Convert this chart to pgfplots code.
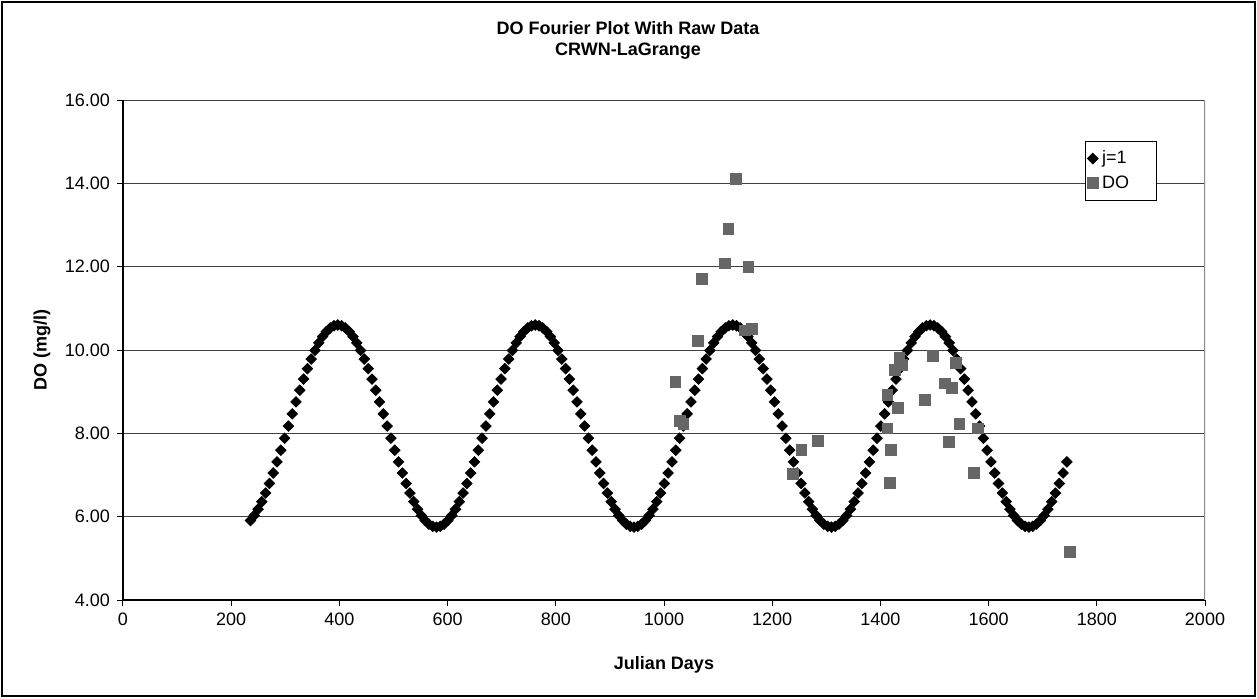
\documentclass[border=0pt]{standalone}
\usepackage{pgfplots}
\pgfplotsset{compat=1.18}
\usepackage{fontspec}
\setmainfont{Liberation Sans}
\definecolor{dogray}{RGB}{102,102,102}
\begin{document}
\begin{tikzpicture}
\useasboundingbox (-61.5pt,-49pt) rectangle (567pt,300pt);
\fill[white] (-61.5pt,-49pt) rectangle (567pt,300pt);
\draw[black, line width=0.6pt] (-60.5pt,-48pt) rectangle (566pt,299pt);
\node[align=center, font=\bfseries\fontsize{9}{10.5}\selectfont] at (252.5pt,280pt) {DO Fourier Plot With Raw Data\\CRWN-LaGrange};
\begin{axis}[
  scale only axis, width=541pt, height=250pt,
  xmin=0, xmax=2000, ymin=4, ymax=16,
  xtick={0,200,...,2000}, ytick={4,6,...,16},
  ymajorgrids, grid style={black!75, line width=0.5pt},
  axis x line*=bottom, axis y line*=left,
  axis line style={black, line width=0.7pt},
  tick align=outside, major tick length=3pt,
  tick style={black, line width=0.5pt},
  /pgf/number format/assume math mode=true,
  tick label style={font=\fontsize{9}{10}\selectfont},
  yticklabel style={/pgf/number format/.cd, fixed, fixed zerofill, precision=2},
  xticklabel style={/pgf/number format/.cd, 1000 sep={}},
  xlabel={Julian Days}, ylabel={DO (mg/l)},
  label style={font=\bfseries\fontsize{9}{10}\selectfont},
  xlabel style={at={(axis description cs:0.5,-0.13)}, anchor=center},
  ylabel style={at={(axis description cs:-0.0749,0.5)}, anchor=center},
  legend style={at={(0.889,0.918)}, anchor=north west, draw=black, line width=0.5pt, fill=white, font=\fontsize{9}{10}\selectfont, inner xsep=1pt, inner ysep=2.5pt, row sep=0.5pt, nodes={text width=24pt, align=left}},
  legend cell align=left,
]
\addplot[only marks, mark=square*, mark size=1.85pt, mark options={rotate=45, fill=black, draw=black}] table[row sep=\\] {
x y\\
235.6 5.908\\ 242.6 6.028\\ 249.6 6.179\\ 256.6 6.360\\ 263.6 6.567\\ 270.7 6.797\\ 277.7 7.048\\ 284.7 7.315\\ 291.7 7.595\\ 298.7 7.883\\ 305.8 8.175\\ 312.8 8.467\\ 319.8 8.755\\ 326.8 9.035\\ 333.8 9.302\\ 340.9 9.553\\ 347.9 9.783\\ 354.9 9.990\\ 361.9 10.171\\ 368.9 10.322\\ 375.9 10.442\\ 383.0 10.530\\ 390.0 10.582\\
397.0 10.600\\ 404.0 10.582\\ 411.0 10.530\\ 418.1 10.442\\ 425.1 10.322\\ 432.1 10.171\\ 439.1 9.990\\ 446.1 9.783\\ 453.2 9.553\\ 460.2 9.302\\ 467.2 9.035\\ 474.2 8.755\\ 481.2 8.467\\ 488.3 8.175\\ 495.3 7.883\\ 502.3 7.595\\ 509.3 7.315\\ 516.3 7.048\\ 523.3 6.797\\ 530.4 6.567\\ 537.4 6.360\\ 544.4 6.179\\ 551.4 6.028\\ 558.4 5.908\\ 565.5 5.820\\ 572.5 5.768\\ 579.5 5.750\\ 586.5 5.768\\ 593.5 5.820\\ 600.6 5.908\\ 607.6 6.028\\ 614.6 6.179\\ 621.6 6.360\\ 628.6 6.567\\ 635.7 6.797\\ 642.7 7.048\\ 649.7 7.315\\ 656.7 7.595\\ 663.7 7.883\\ 670.8 8.175\\ 677.8 8.467\\ 684.8 8.755\\ 691.8 9.035\\ 698.8 9.302\\ 705.9 9.553\\ 712.9 9.783\\ 719.9 9.990\\ 726.9 10.171\\ 733.9 10.322\\ 740.9 10.442\\ 748.0 10.530\\ 755.0 10.582\\
762.0 10.600\\ 769.0 10.582\\ 776.0 10.530\\ 783.1 10.442\\ 790.1 10.322\\ 797.1 10.171\\ 804.1 9.990\\ 811.1 9.783\\ 818.2 9.553\\ 825.2 9.302\\ 832.2 9.035\\ 839.2 8.755\\ 846.2 8.467\\ 853.3 8.175\\ 860.3 7.883\\ 867.3 7.595\\ 874.3 7.315\\ 881.3 7.048\\ 888.3 6.797\\ 895.4 6.567\\ 902.4 6.360\\ 909.4 6.179\\ 916.4 6.028\\ 923.4 5.908\\ 930.5 5.820\\ 937.5 5.768\\ 944.5 5.750\\ 951.5 5.768\\ 958.5 5.820\\ 965.6 5.908\\ 972.6 6.028\\ 979.6 6.179\\ 986.6 6.360\\ 993.6 6.567\\ 1000.7 6.797\\ 1007.7 7.048\\ 1014.7 7.315\\ 1021.7 7.595\\ 1028.7 7.883\\ 1035.8 8.175\\ 1042.8 8.467\\ 1049.8 8.755\\ 1056.8 9.035\\ 1063.8 9.302\\ 1070.9 9.553\\ 1077.9 9.783\\ 1084.9 9.990\\ 1091.9 10.171\\ 1098.9 10.322\\ 1105.9 10.442\\ 1113.0 10.530\\ 1120.0 10.582\\
1127.0 10.600\\ 1134.0 10.582\\ 1141.0 10.530\\ 1148.1 10.442\\ 1155.1 10.322\\ 1162.1 10.171\\ 1169.1 9.990\\ 1176.1 9.783\\ 1183.2 9.553\\ 1190.2 9.302\\ 1197.2 9.035\\ 1204.2 8.755\\ 1211.2 8.467\\ 1218.3 8.175\\ 1225.3 7.883\\ 1232.3 7.595\\ 1239.3 7.315\\ 1246.3 7.048\\ 1253.3 6.797\\ 1260.4 6.567\\ 1267.4 6.360\\ 1274.4 6.179\\ 1281.4 6.028\\ 1288.4 5.908\\ 1295.5 5.820\\ 1302.5 5.768\\ 1309.5 5.750\\ 1316.5 5.768\\ 1323.5 5.820\\ 1330.6 5.908\\ 1337.6 6.028\\ 1344.6 6.179\\ 1351.6 6.360\\ 1358.6 6.567\\ 1365.7 6.797\\ 1372.7 7.048\\ 1379.7 7.315\\ 1386.7 7.595\\ 1393.7 7.883\\ 1400.8 8.175\\ 1407.8 8.467\\ 1414.8 8.755\\ 1421.8 9.035\\ 1428.8 9.302\\ 1435.9 9.553\\ 1442.9 9.783\\ 1449.9 9.990\\ 1456.9 10.171\\ 1463.9 10.322\\ 1470.9 10.442\\ 1478.0 10.530\\ 1485.0 10.582\\
1492.0 10.600\\ 1499.0 10.582\\ 1506.0 10.530\\ 1513.1 10.442\\ 1520.1 10.322\\ 1527.1 10.171\\ 1534.1 9.990\\ 1541.1 9.783\\ 1548.2 9.553\\ 1555.2 9.302\\ 1562.2 9.035\\ 1569.2 8.755\\ 1576.2 8.467\\ 1583.3 8.175\\ 1590.3 7.883\\ 1597.3 7.595\\ 1604.3 7.315\\ 1611.3 7.048\\ 1618.3 6.797\\ 1625.4 6.567\\ 1632.4 6.360\\ 1639.4 6.179\\ 1646.4 6.028\\ 1653.4 5.908\\ 1660.5 5.820\\ 1667.5 5.768\\ 1674.5 5.750\\ 1681.5 5.768\\ 1688.5 5.820\\ 1695.6 5.908\\ 1702.6 6.028\\ 1709.6 6.179\\ 1716.6 6.360\\ 1723.6 6.567\\ 1730.7 6.797\\ 1737.7 7.048\\ 1744.7 7.315\\
};
\addlegendentry{j=1}
\addplot[only marks, mark=square*, mark size=2.7pt, mark options={fill=dogray, draw=dogray}] table[row sep=\\] {
x y\\
1021 9.23\\ 1030 8.29\\ 1036 8.22\\ 1063 10.22\\ 1070 11.70\\ 1113 12.08\\ 1119 12.90\\ 1133 14.11\\ 1150 10.47\\ 1156 12.00\\ 1162 10.50\\ 1238 7.02\\ 1254 7.60\\ 1284 7.82\\ 1413 8.93\\ 1413 8.12\\ 1417 6.82\\ 1419 7.60\\ 1427 9.53\\ 1433 8.62\\ 1435 9.81\\ 1439 9.65\\ 1482 8.80\\ 1497 9.85\\ 1519 9.20\\ 1527 7.80\\ 1532 9.10\\ 1540 9.70\\ 1546 8.22\\ 1573 7.05\\ 1580 8.12\\ 1750 5.15\\
};
\addlegendentry{DO}
\draw[black!45, line width=1pt] (rel axis cs:1,0) -- (rel axis cs:1,1);
\end{axis}
\end{tikzpicture}
\end{document}
